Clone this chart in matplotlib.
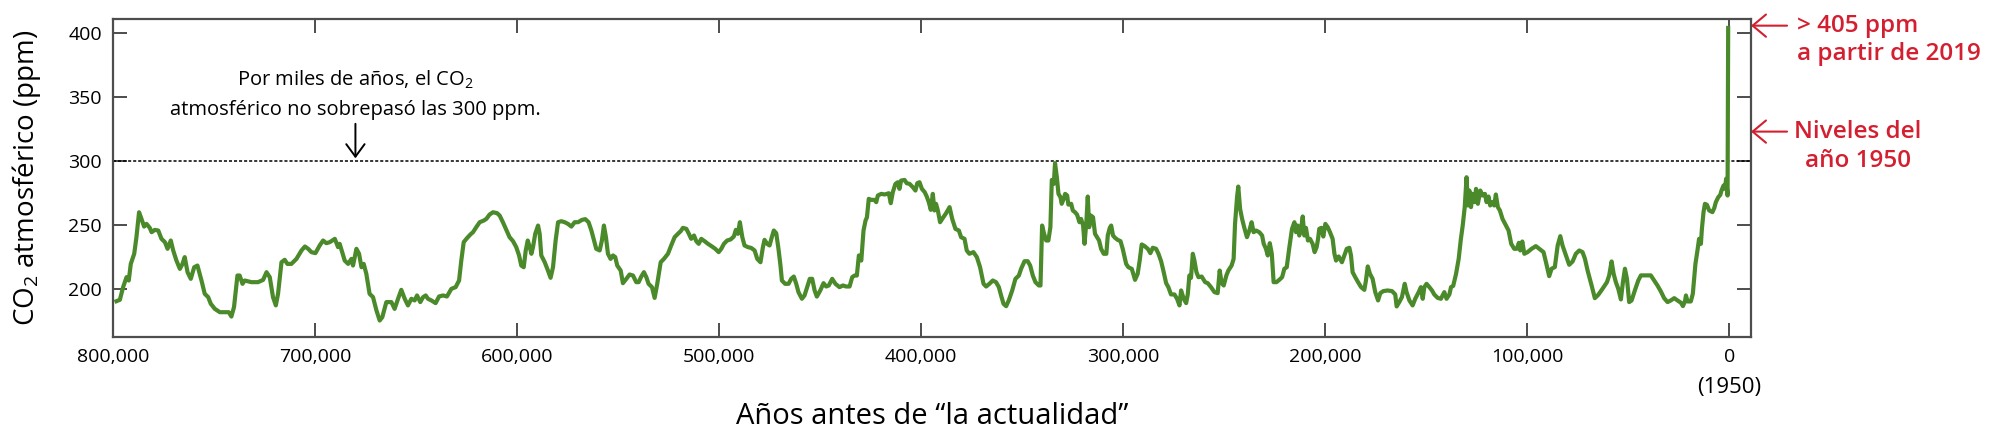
import numpy as np
import matplotlib
matplotlib.use("Agg")
import matplotlib.pyplot as plt

plt.rcParams['font.family'] = ['Open Sans', 'DejaVu Sans']
plt.rcParams['mathtext.fontset'] = 'custom'
plt.rcParams['mathtext.rm'] = 'Open Sans'
plt.rcParams['mathtext.it'] = 'Open Sans:italic'

# miles de años antes de 1950
kyr = [798.3, 796.6, 795.0, 793.3, 792.2, 791.2, 789.5, 788.4, 787.1, 785.9,
       784.6, 783.4, 781.8, 780.9, 779.3, 777.6, 776.0, 774.3, 773.0, 771.4,
       770.2, 768.6, 766.9, 765.6, 764.5, 763.1, 761.5, 759.8, 758.2, 756.2,
       754.6, 752.9, 751.6, 749.6, 747.1, 744.7, 742.7, 741.4, 740.1, 738.4,
       737.3, 735.9, 734.8, 731.5, 728.2, 725.7, 724.0, 722.4, 720.8, 719.4,
       718.3, 716.6, 715.0, 713.7, 711.7, 709.2, 706.7, 705.0, 703.4, 701.8,
       699.8, 697.7, 696.0, 694.4, 692.7, 690.2, 688.6, 687.8,
       685.3, 683.6, 682.0, 681.2, 679.5, 678.2, 677.0, 675.9, 674.6, 673.0,
       671.3, 669.6, 668.0, 666.7, 664.7, 662.2, 660.6, 658.9, 657.3, 655.6,
       654.0, 652.3, 650.7, 649.5, 647.9, 646.5, 645.2, 644.1, 642.4, 640.3,
       638.6, 636.6, 634.7, 632.5, 630.4, 628.7, 627.6, 626.4, 624.8, 623.1,
       621.8, 620.2, 618.5, 616.5, 615.2, 613.6, 611.9, 609.9, 608.6, 607.0,
       605.3, 603.7, 602.0, 600.4, 599.0, 597.9, 596.7, 595.7, 594.7, 593.7,
       592.9, 592.1, 591.0, 589.6, 588.8, 588.0, 586.3, 584.7, 583.4, 582.2,
       580.9, 579.7, 578.1, 576.4, 574.8, 573.1, 571.5,
       569.8, 567.9, 566.2, 564.6, 563.2, 561.9, 560.8, 559.1, 558.0, 557.0,
       556.0, 555.0, 553.7, 552.5, 551.4, 550.4, 548.7, 547.6, 545.9, 544.3,
       542.6, 541.0, 539.8, 538.5, 537.2, 536.0, 534.9, 533.2, 531.9, 530.6,
       528.9, 527.3, 525.3, 523.7, 522.0, 520.4, 519.0, 517.9, 516.2, 515.1,
       513.8, 512.4, 511.3, 510.1, 508.8, 507.2, 505.5, 503.5, 501.9, 500.2,
       498.9, 497.6, 496.0, 494.3, 492.7, 491.7, 490.7, 489.7, 488.5, 487.4,
       485.7, 484.1, 482.4, 481.1, 479.5, 478.3, 477.5, 476.2, 475.0, 473.9,
       472.9, 471.7, 470.6, 469.6, 468.9, 467.3, 465.6, 464.3, 463.0, 461.8,
       460.7, 459.0, 457.7, 456.4, 455.1,
       453.9, 452.7, 451.6, 449.9, 448.3, 447.0, 445.7, 444.0, 442.4, 440.4,
       438.7, 437.1, 435.4, 434.1, 432.9, 431.8, 430.8, 429.6, 428.5, 427.5,
       426.8, 425.9, 424.7, 423.1, 422.2, 421.4, 419.7, 418.1, 416.9, 416.0,
       415.0, 414.0, 412.7, 411.5, 410.7, 409.9, 408.2, 407.1, 405.7, 404.1,
       402.8, 401.9, 400.8, 399.6, 398.2, 397.2, 396.2, 395.2, 394.2, 393.4,
       392.6, 391.7, 390.6, 389.2, 387.6, 385.9, 384.6, 383.0, 381.3, 380.2,
       378.5, 377.4, 376.1, 374.1, 372.4, 370.8, 369.1, 367.8, 366.2, 364.5,
       362.9, 361.5, 360.4, 359.2, 357.9, 356.6, 354.9, 353.3, 351.6, 350.5,
       348.8, 347.2, 346.0, 344.7, 343.4, 341.7, 340.9, 340.1, 339.1, 338.1,
       337.0, 336.0, 335.3, 334.3, 333.7, 332.8, 332.0, 331.0, 330.4, 329.4,
       328.7, 327.7, 327.1, 325.7, 324.9, 323.8, 322.8, 321.6, 320.8, 319.8,
       319.1, 318.2, 317.5, 316.8, 315.9, 314.9, 313.9, 312.9, 311.9, 310.9,
       309.6, 308.3, 307.6, 306.6, 305.9, 305.0, 304.0, 302.7, 301.3, 300.2,
       298.5, 297.4, 295.7, 294.1, 292.8, 291.8, 290.8, 289.5, 287.8, 286.5,
       285.3, 283.7, 282.5, 281.2, 279.9, 278.7, 277.6, 276.3, 274.6, 273.3,
       272.1, 271.3, 270.0, 268.8, 268.0, 267.2, 266.4, 265.5, 264.7, 263.7,
       262.7, 261.1, 259.4, 258.1, 256.5, 254.8, 253.2, 252.2, 251.2, 250.2,
       248.9, 247.9, 246.3, 245.3, 244.6, 243.6, 243.0, 242.1, 241.1, 240.0,
       238.7, 237.5, 236.4, 235.4, 234.2, 232.6, 231.2, 230.4, 229.3, 228.4,
       227.4, 226.4, 225.5, 224.1, 222.7,
       221.3, 220.2, 219.0, 217.7, 216.4, 215.2, 214.4, 213.6, 212.8, 211.8,
       211.1, 210.3, 209.5, 208.5, 207.5, 206.2, 205.2, 204.2, 203.5, 202.9,
       201.9, 200.9, 199.9, 198.7, 197.6, 196.3, 195.4, 194.6, 193.3, 191.7,
       190.5, 189.3, 188.0, 187.2, 186.4, 185.1, 183.7, 182.2, 180.6, 179.8,
       178.9, 177.8, 176.5, 175.2, 173.8, 172.7, 171.2, 169.1, 166.9, 165.3,
       164.6, 163.3, 162.0, 160.6, 159.7, 158.3, 156.7, 155.4, 153.7, 152.6,
       151.7, 150.9, 149.8, 148.4, 147.1, 146.0, 144.3, 142.7, 141.0, 139.9,
       138.5, 137.7, 136.6, 135.2, 133.9, 132.8, 131.9, 130.9, 130.0, 129.3,
       128.6, 127.8, 127.0, 126.0, 125.3, 124.4, 123.2, 122.1, 120.9, 120.1,
       119.1, 118.3, 117.4, 116.3, 115.5, 114.5, 113.5, 112.2, 110.5, 109.2,
       107.9, 106.4,
       105.1, 104.1, 103.4, 102.4, 101.4, 99.8, 97.8, 95.7, 94.0, 91.9,
       90.7, 89.1, 87.9, 86.3, 84.9, 83.6, 82.5, 80.8, 79.2, 77.5,
       75.9, 74.2, 72.6, 71.4, 70.1, 68.1, 66.5, 64.8, 62.7, 60.5,
       59.4, 58.2, 57.2, 56.1, 54.9, 53.6, 52.6, 51.6, 50.6, 49.5,
       48.3, 46.7, 45.0, 43.7, 41.2, 38.8, 37.1, 35.5, 33.8, 32.2,
       30.5, 28.9, 27.2, 25.6, 23.9, 22.9, 21.9, 21.4, 20.6, 19.0,
       18.0, 17.3, 16.7, 15.7, 14.9, 14.0, 13.5, 12.7, 12.0, 11.0,
       9.9, 8.3, 7.4, 6.6, 5.4, 4.4, 3.8, 2.8, 2.1, 1.5,
       0.8, 0.5]

co2 = [190.2, 191.3, 201.2, 209.0, 206.4, 219.4, 227.3, 240.3, 259.8, 254.6,
       248.6, 250.7, 247.6, 244.2, 246.0, 245.5, 239.0, 236.4, 231.2, 237.7,
       229.9, 222.0, 215.5, 219.4, 224.7, 212.9, 207.7, 216.8, 218.1, 206.4,
       196.0, 193.4, 188.2, 184.2, 181.6, 181.6, 181.6, 178.2, 185.6, 210.3,
       210.3, 203.8, 206.4, 205.1, 205.1, 206.9, 212.9, 209.0, 193.4, 186.9,
       196.0, 220.7, 222.6, 219.4, 219.4, 223.3, 229.9, 233.0, 231.2, 228.6,
       227.8, 233.8, 237.7, 235.6, 236.4, 239.0, 232.5, 235.1,
       222.0, 219.4, 223.3, 218.1, 231.2, 227.3, 216.8, 219.4, 211.6, 196.0,
       193.4, 183.0, 175.1, 177.7, 189.5, 189.5, 184.2, 192.1, 199.1, 192.1,
       186.9, 192.1, 190.8, 194.7, 189.5, 193.4, 194.7, 192.1, 190.8, 188.7,
       193.9, 194.7, 193.9, 199.9, 201.2, 206.4, 222.0, 236.4, 239.5, 242.4,
       244.2, 248.1, 252.0, 253.3, 254.6, 258.0, 259.8, 259.1, 257.2, 252.0,
       246.0, 240.3, 237.2, 232.5, 226.0, 218.1, 216.8, 229.9, 237.7, 232.5,
       227.3, 232.5, 242.9, 249.4, 242.9, 226.0, 220.7, 214.2, 208.5, 216.8,
       237.7, 252.0, 252.8, 252.0, 250.7, 248.6, 252.0,
       252.0, 253.8, 254.4, 252.0, 245.5, 237.7, 231.2, 229.9, 237.7, 249.4,
       240.3, 227.3, 223.3, 226.0, 224.7, 218.1, 214.2, 204.3, 207.7, 211.1,
       210.3, 205.1, 205.1, 209.5, 212.9, 209.0, 203.8, 201.2, 192.8, 203.8,
       220.7, 223.3, 227.3, 233.8, 240.3, 242.9, 245.0, 247.6, 246.8, 243.4,
       239.0, 241.6, 237.2, 235.1, 239.0, 237.2, 235.1, 233.0, 231.2, 228.6,
       231.2, 235.1, 237.7, 238.5, 240.8, 246.0, 242.9, 252.0, 240.3, 233.8,
       232.5, 231.9, 229.9, 223.3, 220.7, 232.5, 238.2, 235.1, 233.8, 240.3,
       245.5, 243.4, 231.2, 218.1, 206.4, 203.8, 203.8, 207.7, 209.5, 203.8,
       197.3, 192.1, 194.7, 201.2, 207.7,
       207.7, 198.6, 193.8, 198.6, 204.3, 201.7, 202.5, 207.7, 203.8, 201.2,
       202.5, 201.7, 201.7, 209.0, 210.3, 210.3, 226.0, 222.0, 245.5, 253.3,
       255.9, 270.3, 269.5, 269.5, 267.7, 272.9, 274.2, 273.7, 274.2, 274.7,
       266.9, 275.5, 282.0, 283.3, 278.1, 284.6, 285.1, 282.5, 282.0, 279.4,
       276.8, 282.5, 283.3, 278.1, 275.5, 272.1, 267.7, 261.7, 274.2, 261.2,
       266.4, 261.2, 252.0, 255.4, 259.1, 263.8, 254.6, 246.8, 245.5, 240.3,
       239.0, 229.9, 227.3, 228.6, 224.7, 216.8, 203.8, 201.7, 203.8, 206.4,
       205.1, 201.2, 194.7, 188.2, 186.3, 190.8, 198.6, 207.7, 210.3, 215.5,
       221.5, 221.5, 218.1, 210.3, 205.1, 202.5, 202.5, 249.4, 242.9, 237.7,
       237.7, 248.1, 285.1, 282.0, 298.2, 287.2, 274.2, 271.6, 266.4, 270.3,
       274.2, 272.9, 265.8, 266.4, 261.2, 259.8, 258.0, 252.0, 254.6, 249.4,
       235.1, 252.0, 272.1, 248.1, 257.2, 255.9, 242.9, 240.3, 237.7, 231.2,
       227.3, 227.3, 241.6, 247.6, 249.4, 241.6, 239.8, 238.2, 237.2, 231.2,
       219.4, 216.8, 215.5, 206.9, 211.6, 222.0, 234.6, 233.5, 231.2, 227.8,
       232.0, 231.2, 227.3, 221.5, 212.9, 204.3, 201.2, 195.5, 195.5, 192.1,
       186.9, 198.6, 192.1, 188.7, 195.5, 210.3, 208.5, 227.3, 222.0, 212.9,
       209.0, 209.5, 205.1, 204.3, 201.2, 197.3, 196.5, 214.2, 204.3, 202.5,
       210.3, 214.2, 218.1, 223.3, 250.7, 271.6, 279.9, 262.5, 254.6, 247.6,
       240.3, 245.5, 252.0, 244.2, 245.5, 244.2, 241.6, 235.1, 231.2, 226.0,
       235.6, 227.3, 205.1, 205.1, 206.9,
       209.0, 215.5, 216.8, 232.5, 246.8, 252.0, 244.2, 249.4, 241.6, 248.1,
       256.5, 241.6, 247.6, 237.7, 239.0, 235.1, 228.6, 232.5, 239.0, 246.8,
       247.6, 240.8, 250.7, 248.1, 244.2, 239.0, 227.3, 222.0, 225.2, 220.7,
       226.0, 231.2, 232.0, 226.0, 212.9, 209.0, 205.1, 201.2, 199.1, 206.4,
       217.4, 211.6, 207.7, 197.3, 190.8, 196.5, 198.1, 198.6, 198.1, 195.5,
       186.1, 189.5, 193.4, 203.8, 197.3, 190.8, 186.9, 192.1, 197.3, 201.2,
       192.1, 201.2, 203.8, 201.2, 198.6, 195.5, 192.8, 192.1, 197.3, 192.1,
       195.5, 201.2, 202.2, 211.6, 223.3, 239.0, 249.4, 263.8, 287.2, 265.1,
       276.8, 263.8, 274.2, 267.7, 278.1, 266.4, 276.8, 272.9, 274.2, 267.7,
       272.1, 265.1, 267.7, 265.1, 273.7, 263.8, 261.2, 254.6, 249.4, 245.5,
       235.1, 231.2,
       231.2, 235.9, 229.9, 236.9, 227.3, 228.6, 231.2, 233.3, 231.2, 228.6,
       220.8, 209.8, 215.6, 216.9, 233.8, 241.1, 233.8, 226.0, 218.7, 221.3,
       227.3, 229.9, 228.6, 223.4, 214.3, 202.5, 192.6, 195.2, 199.9, 205.1,
       210.4, 221.3, 211.7, 205.1, 199.9, 191.6, 205.1, 215.6, 207.7, 189.5,
       190.8, 198.6, 206.4, 210.4, 210.4, 210.4, 206.4, 202.5, 197.8, 192.6,
       189.5, 190.8, 192.6, 190.8, 189.0, 186.4, 190.0, 194.7, 190.0, 190.0,
       196.0, 209.0, 219.5, 229.9, 239.0, 235.1, 246.9, 259.9, 266.4, 265.6,
       261.2, 259.9, 263.0, 267.7, 271.6, 273.4, 276.8, 280.7, 278.1, 286.0,
       272.9, 404.0]

xticks = [800000, 700000, 600000, 500000, 400000, 300000, 200000, 100000, 0]
xlabels = ["800,000", "700,000", "600,000", "500,000", "400,000",
           "300,000", "200,000", "100,000", "0"]
yticks = [200, 250, 300, 350, 400]

green = "#4b8a2a"
red = "#d31f2f"
grey = "#4d4d4d"

fig = plt.figure(figsize=(20, 4.43), dpi=100)
ax = fig.add_axes([0.0565, 0.2393, 0.819, 0.7178])

ax.plot(np.array(kyr) * 1000, co2, color=green, lw=3, solid_joinstyle='round', zorder=3)
ax.axhline(300, color='black', lw=1.1, dashes=(2, 1.3), zorder=2)

ax.set_xlim(799500, -10800)
ax.set_ylim(162.2, 411)
ax.set_xticks(xticks)
ax.set_xticklabels(xlabels)
ax.set_yticks(yticks)
ax.tick_params(direction='in', length=10, width=1.4, color=grey, top=True, right=True,
               labelsize=14, pad=8)
for s in ax.spines.values():
    s.set_color(grey)
    s.set_linewidth(1.6)

# "(1950)" va debajo del 0, en letra algo mayor
ax.text(0, -0.16, "(1950)", transform=ax.get_xaxis_transform(), ha='center', va='center',
        fontsize=16)

ax.set_ylabel("CO$_2$ atmosférico (ppm)", fontsize=20)
ax.yaxis.set_label_coords(-0.043, 0.5)
ax.set_xlabel("Años antes de “la actualidad”", fontsize=21)
ax.xaxis.set_label_coords(0.5, -0.205)

ax.text(680000, 352, "Por miles de años, el CO$_2$\natmosférico no sobrepasó las 300 ppm.",
        ha='center', va='center', fontsize=14.5, linespacing=1.55)
ax.annotate("", xy=(680000, 302), xytext=(680000, 329),
            arrowprops=dict(arrowstyle='->, head_length=0.3, head_width=0.22', color='black',
                            lw=1.4, mutation_scale=30, shrinkA=0, shrinkB=0))

# flechas rojas a la derecha
for yv in [405.8, 322.9]:
    ax.annotate("", xy=(1.0, yv), xycoords=('axes fraction', 'data'),
                xytext=(1.022, yv), textcoords=('axes fraction', 'data'),
                arrowprops=dict(arrowstyle='->, head_length=0.3, head_width=0.25', color=red,
                                lw=1.5, mutation_scale=32, shrinkA=0, shrinkB=0),
                annotation_clip=False)

fig.text(0.8985, 0.9097, "> 405 ppm\na partir de 2019", color=red, fontsize=17.5,
         ha='left', va='center', fontweight='semibold', linespacing=1.25)
fig.text(0.929, 0.6693, "Niveles del\naño 1950", color=red, fontsize=17.5,
         ha='center', va='center', fontweight='semibold', linespacing=1.3)

fig.savefig("out.png", dpi=100)
